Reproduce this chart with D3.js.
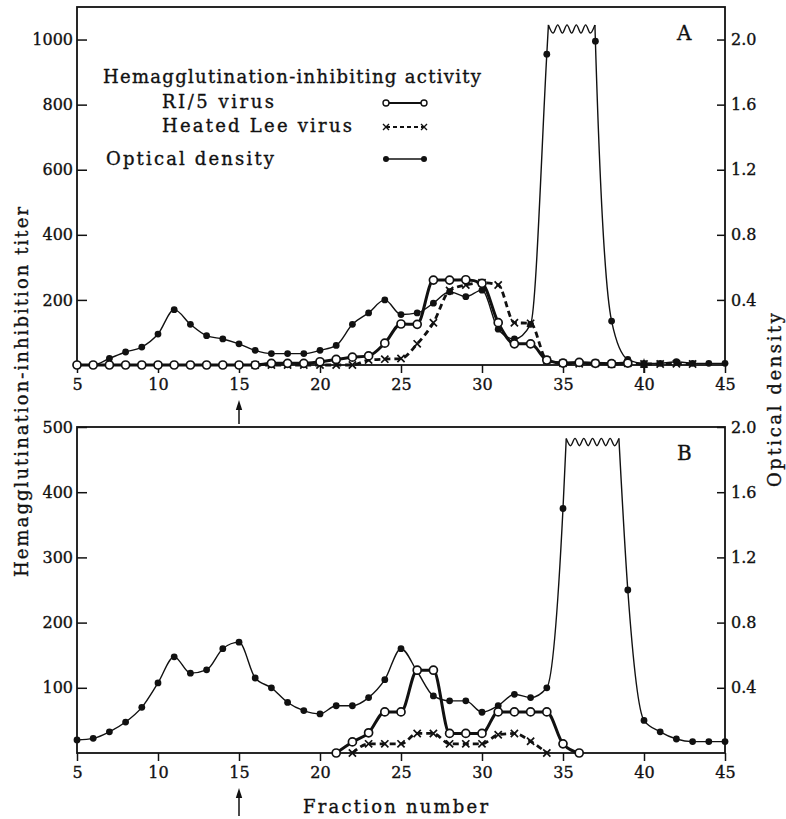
<!DOCTYPE html>
<html lang="en">
<head>
<meta charset="UTF-8">
<script src="https://d3js.org/d3.v7.min.js"></script>
<style>
  body { margin: 0; background: #fff; }
  svg text { font-family: "DejaVu Serif", serif; fill: #111; stroke: #111; stroke-width: 0.35px; }
  .num { font-size: 16px; }
  .lbl { font-size: 18px; }
</style>
</head>
<body>
<svg id="chart" width="786" height="819"></svg>
<script>
// fraction numbers (x categories)
const fractions = [5,6,7,8,9,10,11,12,13,14,15,16,17,18,19,20,21,22,23,24,25,
  26,27,28,29,30,31,32,33,34,35,36,37,38,39,40,41,42,43,44,45];
const xTicks = [5,10,15,20,25,30,35,40,45];

// Panel A -- optical density, fractions 5..45 (null = off scale)
const odA = [0.0,0.0,0.04,0.08,0.11,0.19,0.34,0.25,0.18,0.16,0.13,0.09,0.07,0.07,0.07,
  0.09,0.12,0.25,0.32,0.40,0.31,0.32,0.38,0.45,0.42,0.46,0.22,0.16,0.25,1.91,
  null,null,1.99,0.27,0.035,0.01,0.01,0.02,0.01,0.01,0.01];
// RI/5 virus HI titer, fractions 5..39
const riA = [0,0,0,0,0,0,0,0,0,0,0,0,5,5,5,10,17,24,28,67,126,125,261,261,262,251,
  130,65,65,15,6,8,5,4,6];
// Heated Lee virus HI titer, fractions 16..43
const leeA = [0,0,0,0,0,0,0,15,18,20,65,130,229,246,253,246,130,128,15,5,4,5,3,5,3,3,4,3];
const capA = { from: 34.1, to: 36.97, od: 2.09, dip: 0.05, teeth: 5 };

// Panel B
const odB = [0.08,0.09,0.13,0.19,0.28,0.43,0.59,0.49,0.51,0.64,0.68,0.46,0.40,0.31,0.26,
  0.24,0.29,0.29,0.34,0.45,0.64,0.50,0.35,0.32,0.32,0.25,0.29,0.36,0.34,0.40,
  1.50,null,null,null,1.00,0.20,0.13,0.086,0.07,0.07,0.07];
// RI/5 fractions 21..36
const riB = [0,17,31,63,63,127,127,30,30,30,63,63,63,63,14,0];
// Heated Lee fractions 22..34
const leeB = [0,14,14,14,30,30,14,14,14,28,30,18,0];
const capB = { from: 35.2, to: 38.45, od: 1.93, dip: 0.045, teeth: 6 };

const titerTicksA = [200,400,600,800,1000];
const titerTicksB = [100,200,300,400,500];
const odTicks = [0.4,0.8,1.2,1.6,2.0];

const svg = d3.select('#chart');
const x = d3.scaleLinear().domain([5, 45]).range([77, 725]);

function pts(vals, start) {
  return vals.map((v, i) => ({ f: fractions[fractions.indexOf(start) + i], v: v }))
    .filter(d => d.v !== null);
}

function drawPanel(p) {
  const y = d3.scaleLinear().domain([0, p.titerMax]).range([p.bottom, p.top]);
  const yOd = d3.scaleLinear().domain([0, p.odMax]).range([p.bottom, p.top]);
  const g = svg.append('g');

  // frame
  g.append('rect').attr('x', 77).attr('y', p.top)
    .attr('width', 725 - 77).attr('height', p.bottom - p.top)
    .attr('fill', 'none').attr('stroke', '#111').attr('stroke-width', 1.8);

  // axes
  const xa = g.append('g').attr('transform', `translate(0,${p.bottom})`)
    .call(d3.axisBottom(x).tickValues(xTicks).tickSize(8).tickPadding(6));
  const ya = g.append('g').attr('transform', 'translate(77,0)')
    .call(d3.axisLeft(y).tickValues(p.titerTicks).tickSize(-10).tickPadding(14)
      .tickFormat(d3.format('d')));
  const yr = g.append('g').attr('transform', 'translate(725,0)')
    .call(d3.axisRight(yOd).tickValues(odTicks).tickSize(-8).tickPadding(12)
      .tickFormat(d3.format('.1f')));
  [xa, ya, yr].forEach(a => {
    a.select('.domain').remove();
    a.selectAll('line').attr('stroke', '#111').attr('stroke-width', 1.5);
    a.selectAll('text').attr('class', 'num').attr('fill', '#111')
      .style('font-family', '"DejaVu Serif", serif');
  });
  ya.selectAll('text').attr('dx', 10);
  yr.selectAll('text').attr('dx', -6);

  const curve = d3.curveMonotoneX;
  const tLine = d3.line().x(d => x(d.f)).y(d => y(d.v)).curve(curve);
  const oLine = d3.line().x(d => x(d.f)).y(d => yOd(d.v)).curve(curve);

  // optical density, with truncated plateau
  const od = pts(p.od, 5);
  const c = p.cap;
  const left = od.filter(d => d.f < c.from).concat([{ f: c.from, v: c.od }]);
  const right = [{ f: c.to, v: c.od }].concat(od.filter(d => d.f > c.to));
  const zig = [];
  for (let i = 0; i <= c.teeth * 2; i++) {
    zig.push({ f: c.from + (c.to - c.from) * i / (c.teeth * 2), v: i % 2 ? c.od - c.dip : c.od });
  }
  [left, right].forEach(s => g.append('path').attr('d', oLine(s))
    .attr('fill', 'none').attr('stroke', '#111').attr('stroke-width', 1.4));
  g.append('path').attr('d', d3.line().x(d => x(d.f)).y(d => yOd(d.v)).curve(d3.curveCatmullRom)(zig))
    .attr('fill', 'none').attr('stroke', '#111').attr('stroke-width', 1.4);

  // heated Lee
  const lee = pts(p.lee, p.leeStart);
  g.append('path').attr('d', tLine(lee)).attr('fill', 'none')
    .attr('stroke', '#111').attr('stroke-width', 2.8).attr('stroke-dasharray', '6,4');

  // RI/5
  const ri = pts(p.ri, p.riStart);
  g.append('path').attr('d', tLine(ri)).attr('fill', 'none')
    .attr('stroke', '#111').attr('stroke-width', 3);

  // markers
  g.selectAll('.od').data(od).join('circle')
    .attr('cx', d => x(d.f)).attr('cy', d => yOd(d.v)).attr('r', 3.4).attr('fill', '#111');
  g.selectAll('.lee').data(lee).join('path')
    .attr('d', d => { const cx = x(d.f), cy = y(d.v), s = 3.6;
      return `M${cx - s},${cy - s}L${cx + s},${cy + s}M${cx - s},${cy + s}L${cx + s},${cy - s}`; })
    .attr('stroke', '#111').attr('stroke-width', 1.7);
  g.selectAll('.ri').data(ri).join('circle')
    .attr('cx', d => x(d.f)).attr('cy', d => y(d.v)).attr('r', 4)
    .attr('fill', '#fff').attr('stroke', '#111').attr('stroke-width', 1.7);

  g.append('text').attr('x', 677).attr('y', p.top + 33).style('font-size', '20px').text(p.name);
  return { y, yOd };
}

function arrowUp(xp, tip, tail) {
  svg.append('line').attr('x1', xp).attr('x2', xp).attr('y1', tip + 6).attr('y2', tail)
    .attr('stroke', '#111').attr('stroke-width', 1.5);
  svg.append('path').attr('d', `M${xp},${tip}L${xp - 3.2},${tip + 10}L${xp + 3.2},${tip + 10}Z`)
    .attr('fill', '#111');
}

drawPanel({ name: 'A', top: 7, bottom: 365, titerMax: 1100, odMax: 2.2,
  titerTicks: titerTicksA, od: odA, ri: riA, riStart: 5, lee: leeA, leeStart: 16, cap: capA });
drawPanel({ name: 'B', top: 427, bottom: 753, titerMax: 500, odMax: 2.0,
  titerTicks: titerTicksB, od: odB, ri: riB, riStart: 21, lee: leeB, leeStart: 22, cap: capB });

arrowUp(x(15), 400, 424);
arrowUp(x(15), 788, 816);
arrowUp(x(40), 358, 373);

// legend
const lg = svg.append('g');
lg.append('text').attr('class', 'lbl').attr('x', 103).attr('y', 83)
  .attr('textLength', 378).attr('lengthAdjust', 'spacing')
  .text('Hemagglutination-inhibiting activity');
lg.append('text').attr('class', 'lbl').attr('x', 162).attr('y', 108)
  .attr('textLength', 112).text('RI/5 virus');
lg.append('text').attr('class', 'lbl').attr('x', 162).attr('y', 132)
  .attr('textLength', 190).text('Heated Lee virus');
lg.append('text').attr('class', 'lbl').attr('x', 106).attr('y', 165)
  .attr('textLength', 168).text('Optical density');
lg.append('line').attr('x1', 386).attr('x2', 424).attr('y1', 103).attr('y2', 103)
  .attr('stroke', '#111').attr('stroke-width', 2.2);
[386, 424].forEach(cx => lg.append('circle').attr('cx', cx).attr('cy', 103).attr('r', 3)
  .attr('fill', '#fff').attr('stroke', '#111').attr('stroke-width', 1.4));
lg.append('line').attr('x1', 386).attr('x2', 424).attr('y1', 127).attr('y2', 127)
  .attr('stroke', '#111').attr('stroke-width', 2.2).attr('stroke-dasharray', '4,3');
[386, 424].forEach(cx => lg.append('path')
  .attr('d', `M${cx - 3},${124}L${cx + 3},${130}M${cx - 3},${130}L${cx + 3},${124}`)
  .attr('stroke', '#111').attr('stroke-width', 1.4));
lg.append('line').attr('x1', 386).attr('x2', 424).attr('y1', 159).attr('y2', 159)
  .attr('stroke', '#111').attr('stroke-width', 1.3);
[386, 424].forEach(cx => lg.append('circle').attr('cx', cx).attr('cy', 159).attr('r', 3)
  .attr('fill', '#111'));

// axis titles
svg.append('text').attr('class', 'lbl').attr('text-anchor', 'middle')
  .attr('transform', 'translate(28,392) rotate(-90)')
  .attr('textLength', 370).attr('lengthAdjust', 'spacing')
  .text('Hemagglutination-inhibition titer');
svg.append('text').attr('class', 'lbl').attr('text-anchor', 'middle')
  .attr('transform', 'translate(781,400) rotate(-90)')
  .attr('textLength', 174).text('Optical density');
svg.append('text').attr('class', 'lbl').attr('x', 303).attr('y', 813)
  .attr('textLength', 185).text('Fraction number');
</script>
</body>
</html>
